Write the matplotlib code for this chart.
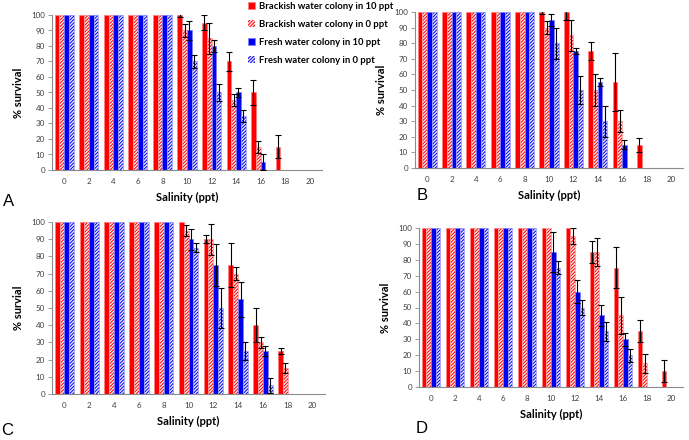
import numpy as np
import matplotlib
matplotlib.use("Agg")
import matplotlib.pyplot as plt
from matplotlib.patches import Patch

plt.rcParams["font.family"] = ["Lato", "DejaVu Sans"]
plt.rcParams["hatch.linewidth"] = 0.7

salinity = ["0", "2", "4", "6", "8", "10", "12", "14", "16", "18", "20"]
series = ["Brackish water colony in 10 ppt", "Brackish water colony in 0 ppt",
          "Fresh water colony in 10 ppt", "Fresh water colony in 0 ppt"]

# panel A
a_bw10 = [100, 100, 100, 100, 100, 100, 95, 70, 50, 15, 0]
a_bw10_err = [0, 0, 0, 0, 0, 1, 5, 6, 8, 7.5, 0]
a_bw0 = [100, 100, 100, 100, 100, 90, 85, 45, 15, 0, 0]
a_bw0_err = [0, 0, 0, 0, 0, 4, 10, 4, 4, 0, 0]
a_fw10 = [100, 100, 100, 100, 100, 90, 80, 50, 5, 0, 0]
a_fw10_err = [0, 0, 0, 0, 0, 6, 4, 3, 5, 0, 0]
a_fw0 = [100, 100, 100, 100, 100, 70, 50, 35, 0, 0, 0]
a_fw0_err = [0, 0, 0, 0, 0, 4, 5.5, 4, 0, 0, 0]

# panel B
b_bw10 = [100, 100, 100, 100, 100, 100, 100, 75, 55, 15, 0]
b_bw10_err = [0, 0, 0, 0, 0, 1, 5, 6, 18.5, 4.5, 0]
b_bw0 = [100, 100, 100, 100, 100, 90, 85, 50, 30, 0, 0]
b_bw0_err = [0, 0, 0, 0, 0, 4, 10, 10, 7, 0, 0]
b_fw10 = [100, 100, 100, 100, 100, 95, 75, 55, 15, 0, 0]
b_fw10_err = [0, 0, 0, 0, 0, 4, 2, 2.5, 3, 0, 0]
b_fw0 = [100, 100, 100, 100, 100, 80, 50, 30, 0, 0, 0]
b_fw0_err = [0, 0, 0, 0, 0, 10, 9, 10, 0, 0, 0]

# panel C
c_bw10 = [100, 100, 100, 100, 100, 100, 90, 75, 40, 25, 0]
c_bw10_err = [0, 0, 0, 0, 0, 0, 2.5, 13, 10, 1.5, 0]
c_bw0 = [100, 100, 100, 100, 100, 95, 90, 70, 30, 15, 0]
c_bw0_err = [0, 0, 0, 0, 0, 3, 9, 4, 3, 3, 0]
c_fw10 = [100, 100, 100, 100, 100, 90, 75, 55, 25, 0, 0]
c_fw10_err = [0, 0, 0, 0, 0, 6, 12, 10, 3, 0, 0]
c_fw0 = [100, 100, 100, 100, 100, 85, 50, 25, 5, 0, 0]
c_fw0_err = [0, 0, 0, 0, 0, 2.5, 11.5, 5.5, 4.5, 0, 0]

# panel D
d_bw10 = [100, 100, 100, 100, 100, 100, 100, 85, 75, 35, 10]
d_bw10_err = [0, 0, 0, 0, 0, 0, 0, 7, 13, 7, 7]
d_bw0 = [100, 100, 100, 100, 100, 100, 95, 85, 45, 15, 0]
d_bw0_err = [0, 0, 0, 0, 0, 0, 5, 9, 11.5, 6, 0]
d_fw10 = [100, 100, 100, 100, 100, 85, 60, 45, 30, 0, 0]
d_fw10_err = [0, 0, 0, 0, 0, 12.5, 7, 6.5, 4, 0, 0]
d_fw0 = [100, 100, 100, 100, 100, 75, 50, 35, 20, 0, 0]
d_fw0_err = [0, 0, 0, 0, 0, 4, 5, 6, 4, 0, 0]

red = "#ff0000"
blue = "#0000ee"
face = [red, "#ffe8e8", blue, "#e8e8ff"]
hatch_col = [red, red, blue, blue]
hatches = [None, "//////////", None, "//////////"]
edge_col = ["#ff8080", "#ff9999", "#8080ff", "#9999ff"]


def draw_panel(ax, values, errors, ylabel):
    x = np.arange(len(salinity))
    w = 0.195
    for i in range(4):
        pos = x + (i - 1.5) * w
        vals = np.array(values[i], dtype=float)
        errs = np.array(errors[i], dtype=float)
        if hatches[i]:
            ax.bar(pos, vals, w, color=face[i], edgecolor=hatch_col[i],
                   hatch=hatches[i], linewidth=0, zorder=2)
            ax.bar(pos, vals, w, fill=False, edgecolor=edge_col[i],
                   linewidth=0.6, zorder=2)
        else:
            ax.bar(pos, vals, w, color=face[i], edgecolor=edge_col[i],
                   linewidth=0.6, zorder=2)
        m = errs > 0
        ax.errorbar(pos[m], vals[m], yerr=errs[m], fmt="none", ecolor="black",
                    elinewidth=0.8, capsize=2, capthick=0.8, zorder=3)

    ax.set_xlim(-0.5, len(salinity) - 0.5)
    ax.set_ylim(0, 100)
    ax.set_xticks(x)
    ax.set_xticklabels(salinity)
    ax.set_yticks(np.arange(0, 101, 10))
    for s in ["top", "right"]:
        ax.spines[s].set_visible(False)
    for s in ["left", "bottom"]:
        ax.spines[s].set_color("#8c8c8c")
        ax.spines[s].set_linewidth(0.8)
    ax.tick_params(axis="x", length=0, pad=6, labelsize=5.8, labelcolor="#404040")
    ax.tick_params(axis="y", length=3, width=0.6, color="#8c8c8c", pad=2,
                   labelsize=5.8, labelcolor="#404040")
    ax.set_xlabel("Salinity (ppt)", fontsize=8, fontweight="bold", labelpad=5)
    ax.set_ylabel(ylabel, fontsize=8, fontweight="bold", labelpad=5)


fig = plt.figure(figsize=(6.89, 4.40), dpi=100)
W, H = 689, 440


def add_axes(left, right, top, bottom):
    return fig.add_axes([left / W, 1 - bottom / H, (right - left) / W, (bottom - top) / H])


ax_a = add_axes(52, 322, 15, 170)
ax_b = add_axes(415, 683, 12, 168)
ax_c = add_axes(52, 325, 222, 394)
ax_d = add_axes(419, 683, 228, 387)

draw_panel(ax_a, [a_bw10, a_bw0, a_fw10, a_fw0],
           [a_bw10_err, a_bw0_err, a_fw10_err, a_fw0_err], "% survival")
draw_panel(ax_b, [b_bw10, b_bw0, b_fw10, b_fw0],
           [b_bw10_err, b_bw0_err, b_fw10_err, b_fw0_err], "% survival")
draw_panel(ax_c, [c_bw10, c_bw0, c_fw10, c_fw0],
           [c_bw10_err, c_bw0_err, c_fw10_err, c_fw0_err], "% survial")
draw_panel(ax_d, [d_bw10, d_bw0, d_fw10, d_fw0],
           [d_bw10_err, d_bw0_err, d_fw10_err, d_fw0_err], "% survival")

# panel letters
for letter, px, py in [("A", 9, 201), ("B", 422, 195), ("C", 7, 430), ("D", 422, 428)]:
    fig.text(px / W, 1 - py / H, letter, fontsize=12, family="Liberation Sans",
             ha="center", va="center")

handles = [
    Patch(facecolor=red, edgecolor=edge_col[0], linewidth=0.6),
    Patch(facecolor=face[1], edgecolor=red, hatch="//////////", linewidth=0),
    Patch(facecolor=blue, edgecolor=edge_col[2], linewidth=0.6),
    Patch(facecolor=face[3], edgecolor=blue, hatch="//////////", linewidth=0),
]
fig.legend(handles, series, loc="upper left", bbox_to_anchor=(248 / W, 1 - 2 / H),
           frameon=False, prop={"weight": "bold", "size": 6.8},
           handlelength=0.7, handleheight=0.7, handletextpad=0.5,
           labelspacing=0.95, borderpad=0, borderaxespad=0)

fig.savefig("out.png", dpi=100)
